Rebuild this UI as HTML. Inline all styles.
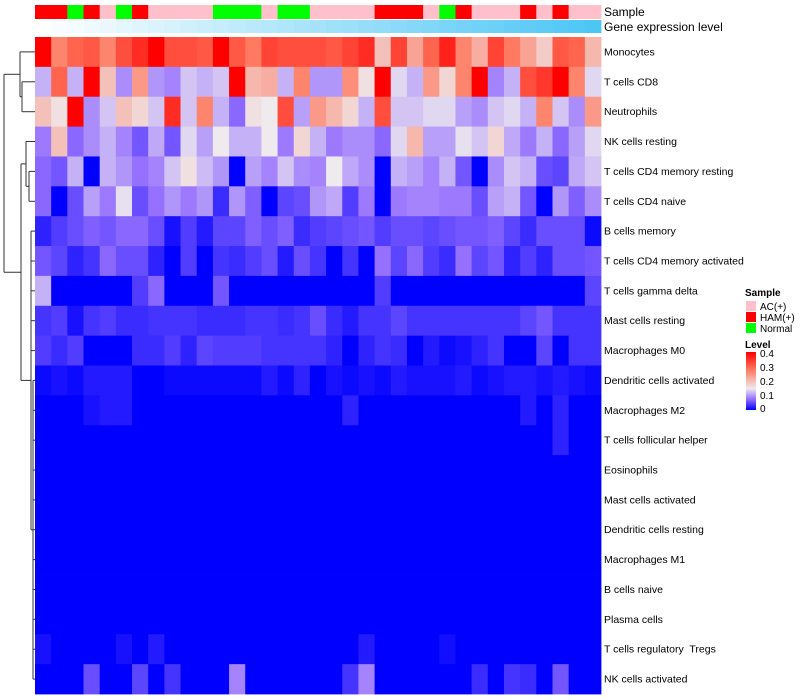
<!DOCTYPE html>
<html><head><meta charset="utf-8">
<style>
body{margin:0;background:#fff;}
svg{display:block;font-family:"Liberation Sans",sans-serif;}
#labels text{white-space:pre;}
</style></head>
<body>
<svg id="chart" width="800" height="700">
  <g id="dendro" stroke="#333" stroke-width="1" fill="none"></g>
  <g id="anno"></g>
  <g id="cells"></g>
  <g id="labels" font-size="10.5" fill="#000"></g>
  <text x="604" y="16" font-size="12">Sample</text>
  <text x="604" y="31" font-size="12">Gene expression level</text>
  <g id="legend" font-size="10">
    <text x="745" y="296" font-weight="bold">Sample</text>
    <rect x="746" y="301" width="10" height="10" fill="#ffc0cb"/>
    <text x="760" y="310">AC(+)</text>
    <rect x="746" y="312" width="10" height="10" fill="#ff0000"/>
    <text x="760" y="321">HAM(+)</text>
    <rect x="746" y="323" width="10" height="10" fill="#00ff00"/>
    <text x="760" y="332">Normal</text>
    <text x="745" y="348" font-weight="bold">Level</text>
    <defs><linearGradient id="lg" x1="0" y1="1" x2="0" y2="0">
      <stop offset="0" stop-color="#0000ff"/><stop offset="0.19" stop-color="#9670ff"/>
      <stop offset="0.37" stop-color="#eeeaee"/><stop offset="0.69" stop-color="#ff7a60"/>
      <stop offset="1" stop-color="#ff0000"/></linearGradient></defs>
    <rect x="746" y="352" width="10" height="58" fill="url(#lg)"/>
    <text x="760" y="357">0.4</text>
    <text x="760" y="371">0.3</text>
    <text x="760" y="385">0.2</text>
    <text x="760" y="399">0.1</text>
    <text x="760" y="412">0</text>
  </g>
</svg>
<script>
const rowNames=["Monocytes","T cells CD8","Neutrophils","NK cells resting","T cells CD4 memory resting","T cells CD4 naive","B cells memory","T cells CD4 memory activated","T cells gamma delta","Mast cells resting","Macrophages M0","Dendritic cells activated","Macrophages M2","T cells follicular helper","Eosinophils","Mast cells activated","Dendritic cells resting","Macrophages M1","B cells naive","Plasma cells","T cells regulatory  Tregs","NK cells activated"];
const sampleGroups=["H","H","N","H","A","N","H","A","A","A","A","N","N","N","A","N","N","A","A","A","A","H","H","H","A","N","H","A","A","A","H","A","H","A","A"];
const z=[0,0,0,0,0,0,0,0,0,0,0,0,0,0,0,0,0,0,0,0,0,0,0,0,0,0,0,0,0,0,0,0,0,0,0];
const rowMonocytes=[0.35,0.23,0.26,0.27,0.23,0.28,0.31,0.35,0.28,0.28,0.27,0.35,0.27,0.24,0.29,0.28,0.28,0.28,0.27,0.29,0.31,0.17,0.29,0.2,0.26,0.32,0.23,0.19,0.29,0.24,0.2,0.16,0.27,0.26,0.18];
const rowCD8=[0.1,0.26,0.1,0.35,0.17,0.08,0.21,0.085,0.075,0.11,0.1,0.11,0.35,0.18,0.19,0.1,0.23,0.085,0.085,0.22,0.14,0.35,0.12,0.1,0.21,0.15,0.23,0.35,0.075,0.1,0.28,0.3,0.35,0.23,0.12];
const rowNeut=[0.17,0.14,0.35,0.08,0.11,0.17,0.15,0.11,0.31,0.11,0.23,0.1,0.06,0.14,0.13,0.28,0.09,0.21,0.18,0.15,0.1,0.28,0.11,0.11,0.12,0.12,0.09,0.08,0.11,0.12,0.1,0.23,0.11,0.08,0.21];
const rowNKrest=[0.07,0.17,0.06,0.08,0.1,0.075,0.05,0.095,0.05,0.12,0.09,0.13,0.1,0.1,0.13,0.07,0.15,0.1,0.07,0.08,0.08,0.06,0.12,0.18,0.09,0.09,0.125,0.11,0.15,0.095,0.07,0.1,0.06,0.09,0.12];
const rowCD4mr=[0.06,0.05,0.1,0,0.1,0.085,0.065,0.075,0.11,0.14,0.105,0.085,0,0.09,0.075,0.11,0.08,0.075,0.13,0.095,0.08,0,0.1,0.09,0.075,0.1,0.05,0,0.08,0.11,0.1,0.045,0.04,0.095,0.11];
const rowCD4n=[0.06,0,0.045,0.09,0.07,0.125,0.045,0.065,0.085,0.07,0.085,0.025,0.085,0.055,0,0.04,0.045,0.085,0.095,0.035,0.07,0,0.07,0.075,0.075,0.07,0.07,0.045,0.09,0.1,0.05,0,0.085,0.055,0.08];
const rowBmem=[0.02,0.035,0.045,0.055,0.05,0.06,0.06,0.045,0.01,0.035,0.015,0.04,0.04,0.055,0.045,0.055,0.025,0.035,0.04,0.045,0.05,0.035,0.045,0.045,0.04,0.045,0.05,0.05,0.055,0.04,0.025,0.045,0.045,0.045,0.005];
const rowCD4ma=[0.05,0.04,0.02,0.03,0.06,0.045,0.045,0.02,0,0.035,0,0.03,0.025,0.035,0.045,0.015,0.045,0.03,0,0.03,0,0.065,0.04,0.06,0.035,0.025,0.065,0.04,0.05,0.02,0.035,0.02,0.045,0.045,0.05];
const rowGD=[0.1,0,0,0,0,0,0.035,0.06,0,0,0,0.05,0,0,0,0,0,0,0,0,0,0.035,0,0,0,0,0,0,0,0,0,0,0,0,0.04];
const rowMastR=[0.03,0.035,0.01,0.03,0.035,0.025,0.025,0.03,0.03,0.03,0.025,0.025,0.025,0.03,0.03,0.025,0.03,0.045,0.025,0.015,0.03,0.03,0.04,0.03,0.03,0.03,0.03,0.03,0.03,0.03,0.04,0.05,0.03,0.03,0.03];
const rowM0=[0.035,0.025,0.035,0,0,0,0.025,0.025,0.035,0.02,0.04,0.035,0.035,0.035,0.03,0.03,0.03,0.03,0.02,0,0.02,0.03,0.025,0,0.015,0.005,0.01,0.02,0.03,0,0,0.04,0,0.03,0.03];
const rowDCa=[0.005,0.01,0.005,0.015,0.015,0.015,0,0,0.005,0.005,0.005,0.005,0.005,0.005,0.015,0.005,0.02,0,0.01,0.005,0.01,0.005,0.015,0.01,0.01,0.01,0.015,0.005,0.01,0.015,0.015,0.01,0.015,0.01,0.005];
const rowM2=[0,0,0,0.01,0.015,0.015,0,0,0,0,0,0,0,0,0,0,0,0,0,0.02,0,0,0,0,0,0,0,0,0,0,0.015,0,0.02,0,0];
const rowTfh=[0,0,0,0,0,0,0,0,0,0,0,0,0,0,0,0,0,0,0,0,0,0,0,0,0,0,0,0,0,0,0,0,0.02,0,0];
const rowTreg=[0.01,0,0,0,0,0.01,0,0.015,0,0,0,0,0,0,0,0,0,0,0,0,0.015,0,0,0,0,0.008,0,0,0,0,0,0,0,0,0];
const rowNKact=[0,0,0,0.045,0,0,0.04,0,0.03,0,0,0,0.075,0,0,0,0,0,0,0.03,0.075,0,0,0,0,0,0,0.025,0,0.03,0.025,0,0.05,0,0];
const values=[rowMonocytes,rowCD8,rowNeut,rowNKrest,rowCD4mr,rowCD4n,rowBmem,rowCD4ma,rowGD,rowMastR,rowM0,rowDCa,rowM2,rowTfh,z,z,z,z,z,z,rowTreg,rowNKact];

const NS="http://www.w3.org/2000/svg";
const X0=35,X1=601,Y0=37,Y1=694;
const nC=sampleGroups.length,nR=rowNames.length;
const cw=(X1-X0)/nC,rh=(Y1-Y0)/nR;
const xPos=i=>X0+i*cw, yPos=j=>Y0+j*rh;
const stops=[[0,[0,0,255]],[0.065,[150,112,255]],[0.13,[238,234,238]],[0.24,[255,122,96]],[0.35,[255,0,0]]];
function colorOf(v){
  if(v<=0)return "rgb(0,0,255)";
  for(let k=1;k<stops.length;k++){
    if(v<=stops[k][0]){const a=stops[k-1],b=stops[k],t=(v-a[0])/(b[0]-a[0]);
      return "rgb("+a[1].map((c,i)=>Math.round(c+(b[1][i]-c)*t)).join(",")+")";}
  }
  return "rgb(255,0,0)";
}
function mk(tag,attrs){const e=document.createElementNS(NS,tag);for(const k in attrs)e.setAttribute(k,attrs[k]);return e;}
const cells=document.getElementById('cells');
values.forEach((row,j)=>row.forEach((v,i)=>{
  const r=mk('rect',{x:xPos(i).toFixed(2),y:yPos(j).toFixed(2),width:(cw+0.4).toFixed(2),height:(rh+0.4).toFixed(2),fill:colorOf(v)});
  
  
  cells.appendChild(r);
}));
const labels=document.getElementById('labels');
rowNames.forEach((n,j)=>{
  const t=mk('text',{x:604,y:(yPos(j)+rh/2+3.5).toFixed(1)});t.textContent=n;
  
  
  labels.appendChild(t);
});
const anno=document.getElementById('anno');
const gcol={A:"#ffc0cb",H:"#ff0000",N:"#00ff00"};
sampleGroups.forEach((g,i)=>{
  const r=mk('rect',{x:xPos(i).toFixed(2),y:5,width:(cw+0.4).toFixed(2),height:14,fill:gcol[g]});
  
  
  anno.appendChild(r);
  const t=i/(nC-1);
  const c=[255+(76-255)*t,255+(198-255)*t,255+(245-255)*t].map(Math.round);
  const r2=mk('rect',{x:xPos(i).toFixed(2),y:20,width:(cw+0.4).toFixed(2),height:13,fill:"rgb("+c.join(",")+")"});
  
  
  anno.appendChild(r2);
});
const d=document.getElementById('dendro');
const yc=j=>yPos(j)+rh/2;
const segs=[];
function L(x1,y1,x2,y2){segs.push([x1,y1,x2,y2]);}
const ySub=(yc(1)+yc(2))/2, yTop=(yc(0)+ySub)/2;
L(22,yc(1),35,yc(1));L(22,yc(2),35,yc(2));L(22,yc(1),22,yc(2));
L(20,ySub,22,ySub);L(20,yc(0),35,yc(0));L(20,yc(0),20,ySub);
const yA2=(yc(4)+yc(5))/2;
L(29,yc(4),35,yc(4));L(29,yc(5),35,yc(5));L(29,yc(4),29,yc(5));
L(26,yA2,29,yA2);L(26,yc(3),35,yc(3));L(26,yc(3),26,yA2);
const yA=(yc(3)+yA2)/2;
for(let j=6;j<nR;j++){L(j>=11?33:31,yc(j),35,yc(j));}
L(33,yc(11),33,yc(21));const yB2=(yc(11)+yc(21))/2;
L(31,yc(6),31,yB2);L(31,yB2,33,yB2);
const yB=(yc(6)+yB2)/2;
L(21,yA,26,yA);L(21,yB,31,yB);L(21,yA,21,yB);
const yLow=(yA+yB)/2;
L(4,yTop,20,yTop);L(4,yLow,21,yLow);L(4,yTop,4,yLow);
segs.forEach(s=>{const l=mk('line',{x1:s[0],y1:s[1].toFixed(1),x2:s[2],y2:s[3].toFixed(1)});
  
  
  d.appendChild(l);});
</script>
</body></html>
